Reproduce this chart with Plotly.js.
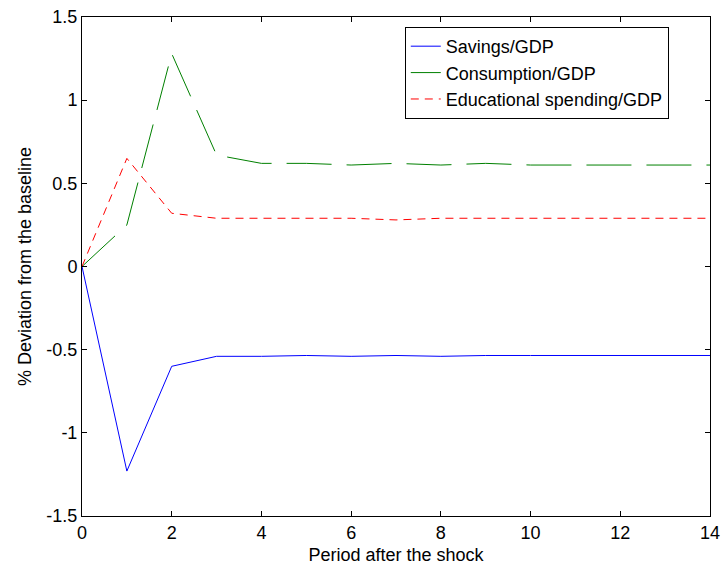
<!DOCTYPE html>
<html>
<head>
<meta charset="utf-8">
<script src="https://cdn.plot.ly/plotly-3.0.1.min.js"></script>
<style>
  body { margin: 0; background: #fff; }
  #chart { width: 723px; height: 569px; }
</style>
</head>
<body>
<div id="chart"></div>
<script>
// periods after the shock
var periods = [0, 1, 2, 3, 4, 5, 6, 7, 8, 9, 10, 11, 12, 13, 14];

// % deviation from the baseline
var savings = [0, -1.23, -0.60, -0.54, -0.54, -0.535, -0.54, -0.535, -0.54, -0.535, -0.535, -0.535, -0.535, -0.535, -0.535];
var consumption = [0, 0.25, 1.28, 0.67, 0.62, 0.62, 0.61, 0.62, 0.61, 0.62, 0.61, 0.61, 0.61, 0.61, 0.61];
var education = [0, 0.65, 0.32, 0.29, 0.29, 0.29, 0.29, 0.28, 0.29, 0.29, 0.29, 0.29, 0.29, 0.29, 0.29];

var yTicks = [-1.5, -1, -0.5, 0, 0.5, 1, 1.5];
var yTickText = ['-1.5', '-1', '-0.5', '0', '0.5', '1', '1.5'];
var xTicks = [0, 2, 4, 6, 8, 10, 12, 14];

var font = {family: 'Liberation Sans, Arial, sans-serif', size: 18, color: '#000'};

var traces = [
  {x: periods, y: savings, name: 'Savings/GDP', type: 'scatter', mode: 'lines',
   line: {color: '#0000ff', width: 1}},
  {x: periods, y: consumption, name: 'Consumption/GDP', type: 'scatter', mode: 'lines',
   line: {color: '#008000', width: 1, dash: '45px,15px'}},
  {x: periods, y: education, name: 'Educational spending/GDP', type: 'scatter', mode: 'lines',
   line: {color: '#ff0000', width: 1, dash: '8px,6px'}}
];

var axisCommon = {
  showgrid: false, zeroline: false, showline: true, linecolor: '#000', linewidth: 1,
  mirror: 'ticks', ticks: 'inside', ticklen: 5, tickcolor: '#000', tickfont: font
};

var layout = {
  width: 723, height: 569,
  margin: {l: 82, r: 13, t: 17, b: 53},
  paper_bgcolor: '#fff', plot_bgcolor: '#fff',
  font: font,
  showlegend: true,
  legend: {
    x: 0.514, y: 0.98, xanchor: 'left', yanchor: 'top',
    bgcolor: '#fff', bordercolor: '#000', borderwidth: 1,
    font: font, tracegroupgap: 0, entrywidth: 258
  },
  xaxis: Object.assign({}, axisCommon, {
    range: [0, 14], tickvals: xTicks,
    title: {text: 'Period after the shock', font: font, standoff: 6}
  }),
  yaxis: Object.assign({}, axisCommon, {
    range: [-1.5, 1.5], tickvals: yTicks, ticktext: yTickText,
    title: {text: '% Deviation from the baseline', font: font, standoff: 10}
  })
};

Plotly.newPlot('chart', traces, layout, {displayModeBar: false, staticPlot: true});
</script>
</body>
</html>
